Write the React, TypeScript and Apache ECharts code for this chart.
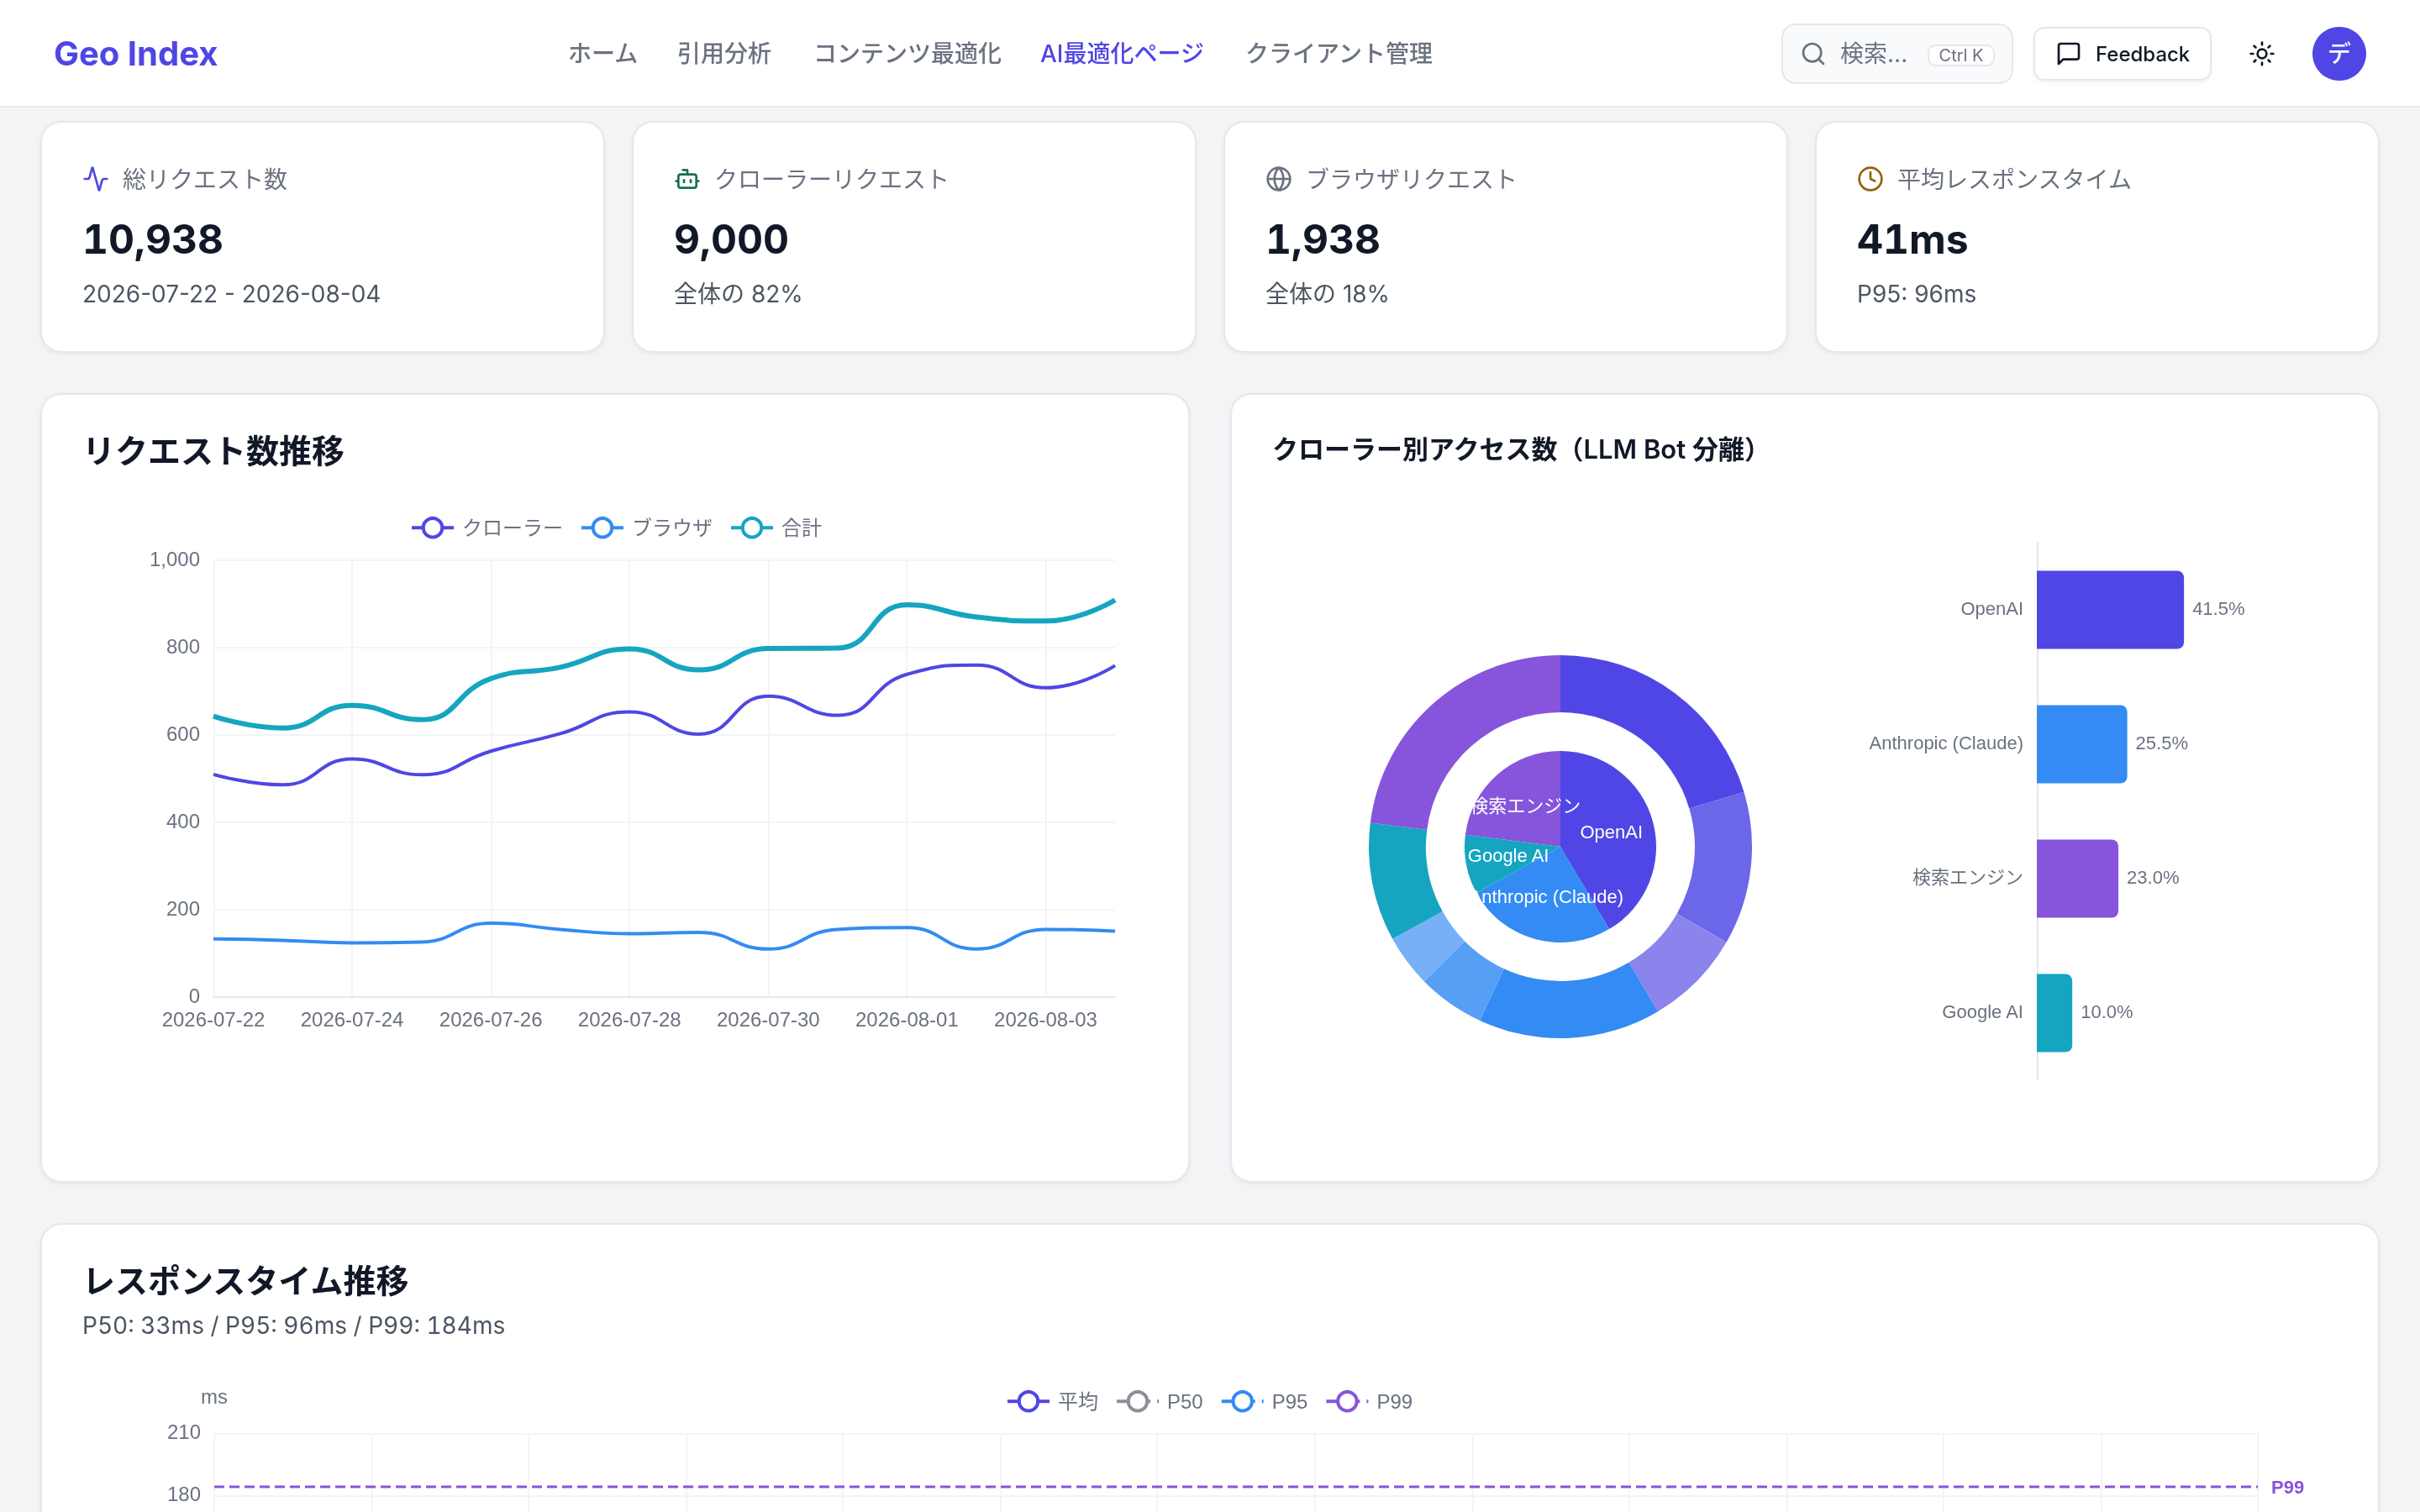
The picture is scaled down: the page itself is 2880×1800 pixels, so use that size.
import React, { useEffect, useRef } from 'react';
import * as echarts from 'echarts';

// ---- data ----
const navLabels = ['ホーム', '引用分析', 'コンテンツ最適化', 'AI最適化ページ', 'クライアント管理'];
const kpiLabels = ['総リクエスト数', 'クローラーリクエスト', 'ブラウザリクエスト', '平均レスポンスタイム'];
const kpiValues = ['10,938', '9,000', '1,938', '41ms'];
const kpiNotes = ['2026-07-22 - 2026-08-04', '全体の 82%', '全体の 18%', 'P95: 96ms'];

const dates = [
  '2026-07-22', '2026-07-23', '2026-07-24', '2026-07-25', '2026-07-26', '2026-07-27', '2026-07-28',
  '2026-07-29', '2026-07-30', '2026-07-31', '2026-08-01', '2026-08-02', '2026-08-03', '2026-08-04'
];
const crawlerRequests = [510, 486, 545, 509, 563, 603, 653, 602, 689, 645, 739, 760, 708, 759];
const browserRequests = [133, 130, 124, 126, 169, 155, 145, 148, 110, 155, 159, 110, 155, 151];
const totalRequests = [643, 616, 668, 635, 729, 755, 797, 749, 798, 799, 898, 870, 861, 909];

const vendorNames = ['OpenAI', 'Anthropic (Claude)', 'Google AI', '検索エンジン'];
const vendorShares = [41.5, 25.5, 10.0, 23.0];
const botNames = ['GPTBot', 'ChatGPT-User', 'OAI-SearchBot', 'ClaudeBot', 'Claude-User', 'Claude-SearchBot', 'Google-Extended', '検索Bot'];
const botShares = [20.4, 12.9, 8.2, 15.4, 5.7, 4.4, 10.0, 23.0];
const rankedVendors = ['OpenAI', 'Anthropic (Claude)', '検索エンジン', 'Google AI'];
const rankedShares = [41.5, 25.5, 23.0, 10.0];

// below the fold in the reference, only the P99 mark line shows
const avgLatency = [40, 42, 39, 43, 41, 40, 44, 38, 42, 41, 43, 40, 39, 42];
const p50Latency = [32, 34, 31, 35, 33, 32, 35, 30, 34, 33, 34, 32, 31, 34];
const p95Latency = [92, 98, 90, 101, 96, 94, 102, 88, 97, 95, 100, 93, 91, 99];
const p99Latency = [150, 162, 141, 158, 166, 149, 160, 138, 155, 147, 164, 152, 143, 159];
const p99Mark = 184;

const INDIGO = '#4f46e5';
const BLUE = '#338bf3';
const TEAL = '#15a5c1';
const PURPLE = '#8655db';
const GRAY = '#8b8f98';
const botColors = [INDIGO, '#6c66e9', '#8a84ec', BLUE, '#579ef5', '#77b0f6', TEAL, PURPLE];
const vendorColors = [INDIGO, BLUE, TEAL, PURPLE];
const rankedColors = [INDIGO, BLUE, PURPLE, TEAL];

const UI_FONT = 'Inter, "Noto Sans CJK JP", sans-serif';
const CHART_FONT = '"Liberation Sans", "Noto Sans CJK JP", sans-serif';

// lucide icons, 24 unit box
const icons: Record<string, string> = {
  activity: 'M22 12h-2.48a2 2 0 0 0-1.93 1.46l-2.35 8.36a.25.25 0 0 1-.48 0L9.24 2.18a.25.25 0 0 0-.48 0l-2.35 8.36A2 2 0 0 1 4.49 12H2',
  bot: 'M12 8V4H8M6 8h12a2 2 0 0 1 2 2v8a2 2 0 0 1-2 2H6a2 2 0 0 1-2-2v-8a2 2 0 0 1 2-2zM2 14h2M20 14h2M15 13v2M9 13v2',
  globe: 'M22 12a10 10 0 1 1-20 0a10 10 0 1 1 20 0zM12 2a14.5 14.5 0 0 0 0 20a14.5 14.5 0 0 0 0-20M2 12h20',
  clock: 'M22 12a10 10 0 1 1-20 0a10 10 0 1 1 20 0zM12 6v6l4 2',
  search: 'M19 11a8 8 0 1 1-16 0a8 8 0 1 1 16 0zM21 21l-4.34-4.34',
  message: 'M21 15a2 2 0 0 1-2 2H7l-4 4V5a2 2 0 0 1 2-2h14a2 2 0 0 1 2 2z',
  sun: 'M16 12a4 4 0 1 1-8 0a4 4 0 1 1 8 0zM12 2v2M12 20v2M4.93 4.93l1.41 1.41M17.66 17.66l1.41 1.41M2 12h2M20 12h2M6.34 17.66l-1.41 1.41M19.07 4.93l-1.41 1.41'
};
Object.keys(icons).forEach((k) => {
  echarts.graphic.registerShape('icon-' + k, echarts.graphic.extendPath(icons[k], {}) as any);
});

const text = (t: string, x: number, y: number, size: number, weight: number, color: string, align = 'left', font = UI_FONT) => ({
  type: 'text', z: -1, x, y,
  style: { text: t, fontFamily: font, fontSize: size, fontWeight: weight, fill: color, align, verticalAlign: 'middle' }
});

const box = (x: number, y: number, w: number, h: number, r: number, fill: string, shadow = false) => ({
  type: 'rect', z: -2,
  shape: { x: x + 0.5, y: y + 0.5, width: w - 1, height: h - 1, r },
  style: {
    fill, stroke: '#e5e7eb', lineWidth: 1,
    ...(shadow ? { shadowBlur: 2, shadowOffsetY: 1, shadowColor: 'rgba(0,0,0,0.05)' } : {})
  }
});

const icon = (name: string, x: number, y: number, color: string) => ({
  type: 'icon-' + name, z: -1, x, y, scaleX: 2 / 3, scaleY: 2 / 3,
  style: { fill: 'none', stroke: color, lineWidth: 2, lineCap: 'round', lineJoin: 'round' }
});

function buildChrome() {
  const navX = [338, 403, 484, 619, 741];
  const cardX = [24, 376, 728, 1080];
  const kpiIcons = ['activity', 'bot', 'globe', 'clock'];
  const kpiColors = [INDIGO, '#166e54', '#6b7280', '#92610e'];
  const out: any[] = [
    { type: 'rect', z: -3, shape: { x: 0, y: 0, width: 1440, height: 1128 }, style: { fill: '#f3f4f6' } },
    { type: 'rect', z: -3, shape: { x: 0, y: 0, width: 1440, height: 64 }, style: { fill: '#ffffff' } },
    { type: 'rect', z: -3, shape: { x: 0, y: 63, width: 1440, height: 1 }, style: { fill: '#e5e7eb' } },
    text('Geo Index', 32, 31.5, 20, 700, INDIGO),
    box(1060, 14, 138, 36, 8, '#f9fafb'),
    icon('search', 1071, 24, '#6b7280'),
    text('検索...', 1095, 32, 14, 400, '#6b7280'),
    box(1147, 26.5, 40, 13, 4, '#ffffff'),
    text('Ctrl K', 1167, 33, 10, 400, '#6b7280', 'center'),
    box(1210, 16, 106, 32, 6, '#ffffff', true),
    icon('message', 1223, 24, '#111827'),
    text('Feedback', 1247, 32, 12, 500, '#111827'),
    icon('sun', 1338, 24, '#111827'),
    { type: 'circle', z: -1, shape: { cx: 1392, cy: 32, r: 16 }, style: { fill: INDIGO } },
    text('デ', 1392, 32, 14, 500, '#ffffff', 'center')
  ];
  navLabels.forEach((label, i) => {
    out.push(text(label, navX[i], 32, 14, 500, i === 3 ? INDIGO : '#6b7280'));
  });
  cardX.forEach((x, i) => {
    out.push(box(x, 72, 336, 138, 12, '#ffffff', true));
    out.push(icon(kpiIcons[i], x + 25, 98.5, kpiColors[i]));
    out.push(text(kpiLabels[i], x + 49, 107, 14, 400, '#6b7280'));
    out.push(text(kpiValues[i], x + 25, 142, 24, 700, '#111827'));
    out.push(text(kpiNotes[i], x + 25, 175, 14, 400, '#4b5563'));
  });
  out.push(box(24, 234, 684, 470, 12, '#ffffff', true));
  out.push(box(732, 234, 684, 470, 12, '#ffffff', true));
  out.push(box(24, 728, 1392, 400, 12, '#ffffff', true));
  out.push(text('リクエスト数推移', 49, 268, 19.5, 600, '#111827'));
  out.push(text('クローラー別アクセス数（LLM Bot 分離）', 757, 267, 15.5, 600, '#111827'));
  out.push(text('レスポンスタイム推移', 49, 762, 19.5, 600, '#111827'));
  // 14.01 is only a hook for the tabular-nums rule in App
  out.push(text('P50: 33ms / P95: 96ms / P99: 184ms', 49, 789, 14.01, 400, '#4b5563'));
  return out;
}

const splitLine = (interval?: number) => ({ show: true, interval, lineStyle: { color: '#f3f4f6', width: 1 } });
const axisLine = { show: true, lineStyle: { color: '#e5e7eb', width: 1 } };
// y labels sit a pixel above their gridline in the reference, a 2px box on 'bottom' does that
const xTickLabel = { color: '#6b7280', fontSize: 12, margin: 7 };
const yTickLabel = { color: '#6b7280', fontSize: 12, verticalAlign: 'bottom', lineHeight: 2 };

const lineSeries = (name: string, data: number[], color: string, gridIdx: number, width: number, dashed = false) => ({
  name, data, type: 'line', smooth: true, showSymbol: false, symbol: 'emptyCircle',
  xAxisIndex: gridIdx, yAxisIndex: gridIdx,
  itemStyle: { color },
  lineStyle: { color, width, type: dashed ? 'dashed' : 'solid' }
});

function buildOption() {
  return {
    animation: false,
    textStyle: { fontFamily: CHART_FONT },
    graphic: { elements: buildChrome() },
    legend: [
      {
        left: 244, top: 307.5, padding: 0, itemGap: 10,
        data: ['クローラー', 'ブラウザ', '合計'],
        textStyle: { color: '#6b7280', fontSize: 12, fontFamily: CHART_FONT }
      },
      {
        left: 598.5, top: 827.5, padding: 0, itemGap: 10,
        data: ['平均', 'P50', 'P95', 'P99'],
        textStyle: { color: '#6b7280', fontSize: 12, fontFamily: CHART_FONT }
      }
    ],
    grid: [
      { left: 127, top: 333.5, width: 536.5, height: 260 },
      { left: 1212, top: 323, width: 211, height: 320 },
      { left: 127.5, top: 853, width: 1216, height: 260 }
    ],
    xAxis: [
      {
        gridIndex: 0, type: 'category', data: dates, boundaryGap: false,
        axisLine, axisTick: { show: false }, splitLine: splitLine(1),
        axisLabel: { ...xTickLabel, interval: 1 }
      },
      { gridIndex: 1, type: 'value', min: 0, max: 100, show: false },
      {
        gridIndex: 2, type: 'category', data: dates, boundaryGap: false,
        axisLine, axisTick: { show: false }, splitLine: splitLine(0),
        axisLabel: { show: false } // past the fold
      }
    ],
    yAxis: [
      {
        gridIndex: 0, type: 'value', min: 0, max: 1000, interval: 200,
        axisLine: { show: false }, axisTick: { show: false }, splitLine: splitLine(),
        axisLabel: { ...yTickLabel, formatter: (v: number) => v.toLocaleString('en-US') }
      },
      {
        gridIndex: 1, type: 'category', data: rankedVendors, inverse: true,
        axisLine, axisTick: { show: false }, splitLine: { show: false },
        axisLabel: { ...yTickLabel, fontSize: 11 }
      },
      {
        gridIndex: 2, type: 'value', min: 0, max: 210, interval: 30, name: 'ms', nameGap: 16,
        nameTextStyle: { color: '#6b7280', fontSize: 12 },
        axisLine: { show: false }, axisTick: { show: false }, splitLine: splitLine(),
        // the lower ticks are past the fold
        axisLabel: { ...yTickLabel, formatter: (v: number) => (v >= 180 ? String(v) : '') }
      }
    ],
    series: [
      lineSeries('クローラー', crawlerRequests, INDIGO, 0, 2),
      lineSeries('ブラウザ', browserRequests, BLUE, 0, 2),
      lineSeries('合計', totalRequests, TEAL, 0, 3),
      {
        type: 'pie', center: [928.5, 504], radius: [0, 57], startAngle: 90, clockwise: true,
        data: vendorNames.map((name, i) => ({ name, value: vendorShares[i], itemStyle: { color: vendorColors[i] } })),
        label: { position: 'inner', color: '#ffffff', fontSize: 11, fontFamily: CHART_FONT, offset: [0, -0.5] },
        labelLine: { show: false }
      },
      {
        type: 'pie', center: [928.5, 504], radius: [80, 114], startAngle: 90, clockwise: true,
        data: botNames.map((name, i) => ({ name, value: botShares[i], itemStyle: { color: botColors[i] } })),
        label: { show: false }, labelLine: { show: false }
      },
      {
        type: 'bar', xAxisIndex: 1, yAxisIndex: 1, barWidth: 46.5,
        data: rankedShares.map((value, i) => ({ value, itemStyle: { color: rankedColors[i], borderRadius: [0, 4, 4, 0] } })),
        label: {
          show: true, position: 'right', distance: 5, color: '#6b7280', fontSize: 11, offset: [0, -1],
          formatter: (p: any) => p.value.toFixed(1) + '%'
        }
      },
      lineSeries('平均', avgLatency, INDIGO, 2, 2),
      lineSeries('P50', p50Latency, GRAY, 2, 2, true),
      lineSeries('P95', p95Latency, BLUE, 2, 2, true),
      {
        ...lineSeries('P99', p99Latency, PURPLE, 2, 2, true),
        markLine: {
          silent: true, symbol: 'none', animation: false,
          data: [{ yAxis: p99Mark }],
          lineStyle: { color: PURPLE, width: 1.5, type: 'dashed' },
          label: { position: 'end', distance: 8, formatter: 'P99', color: PURPLE, fontSize: 11, fontWeight: 'bold' }
        }
      }
    ]
  };
}

export default function App() {
  const chartRef = useRef<HTMLDivElement>(null);

  useEffect(() => {
    if (!chartRef.current) return;
    const chart = echarts.init(chartRef.current, null, { renderer: 'svg' });
    chart.setOption(buildOption() as any);
    return () => chart.dispose();
  }, []);

  // the dashboard is laid out at 1440x900 and shown at 2x, like a retina screenshot;
  // the response card runs past the fold, so the chart is taller than the clip box
  return (
    <div
      style={{
        position: 'absolute', left: 0, top: 0, width: 1440, height: 900, overflow: 'hidden',
        transform: 'scale(2)', transformOrigin: '0 0'
      }}
    >
      <style>{'svg text[style*="24px"], svg text[style*="14.01px"] { font-variant-numeric: tabular-nums !important; }'}</style>
      <div ref={chartRef} style={{ width: 1440, height: 1128 }} />
    </div>
  );
}
